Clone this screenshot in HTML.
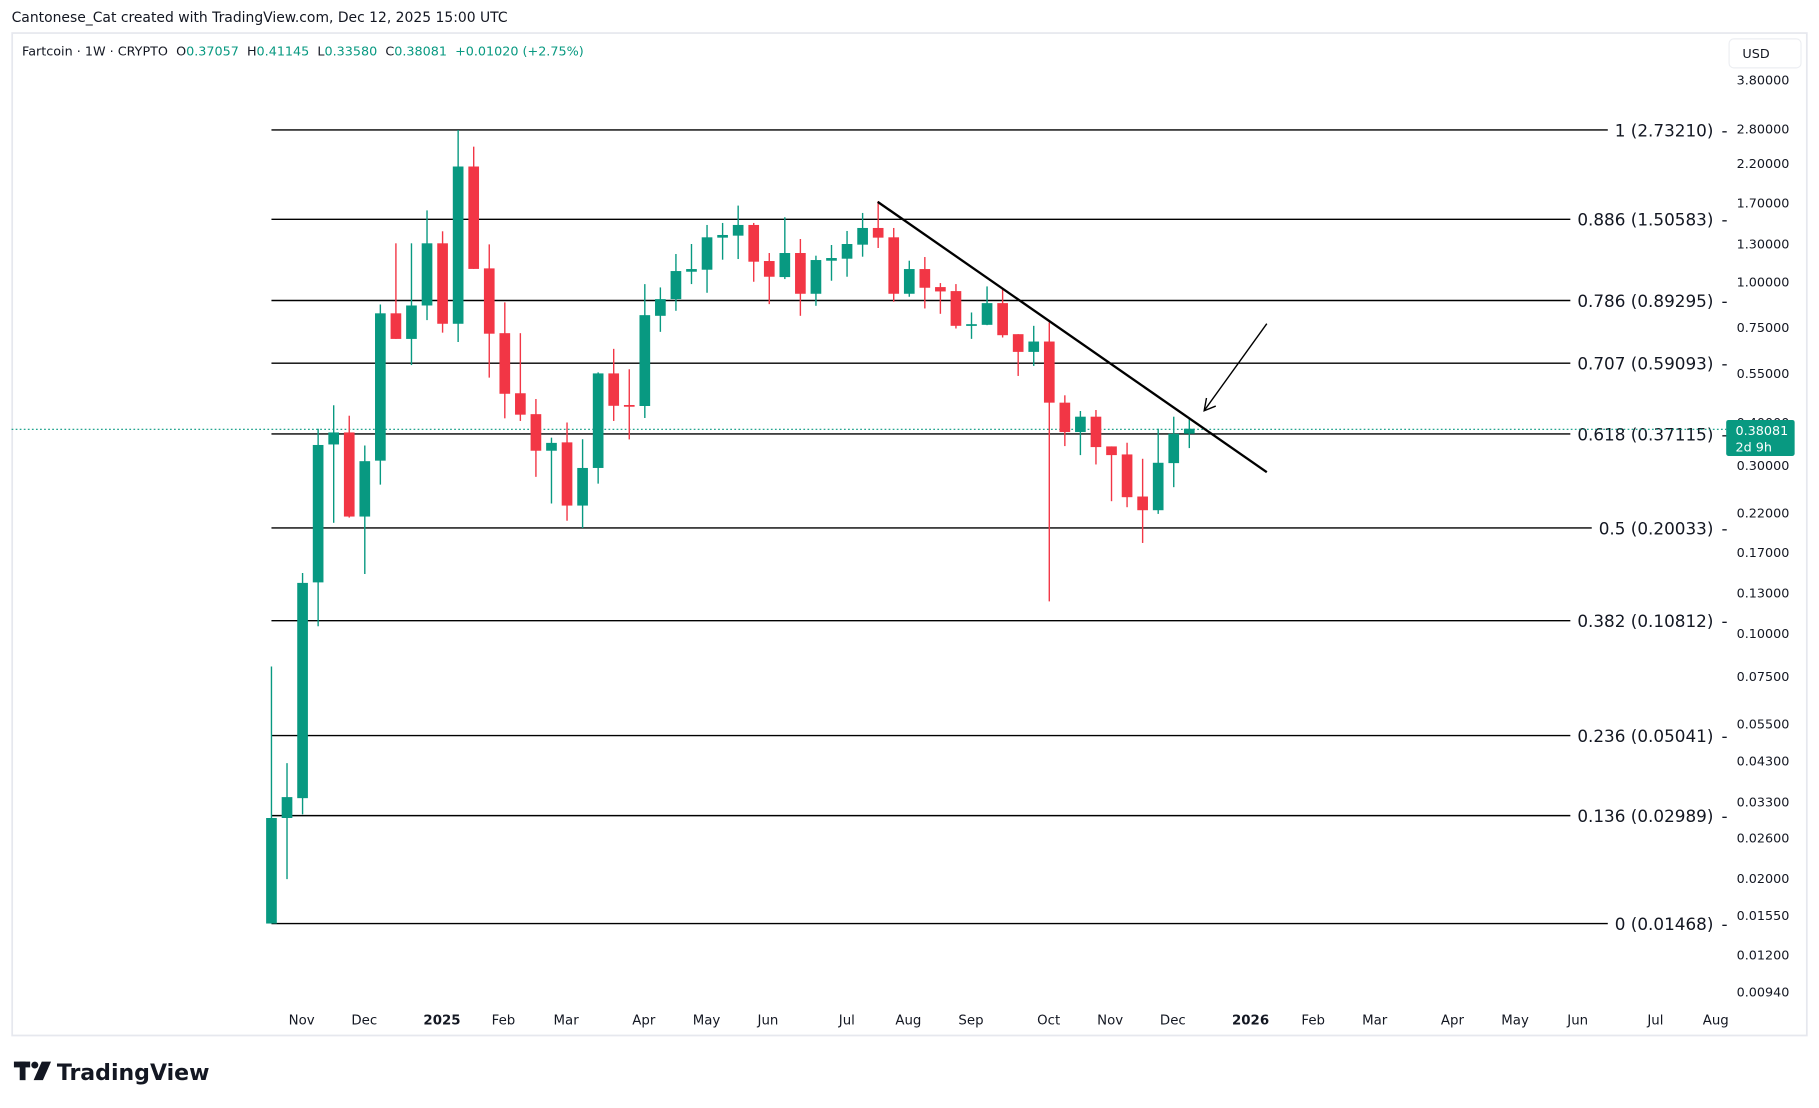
<!DOCTYPE html>
<html><head><meta charset="utf-8"><style>
html,body{margin:0;padding:0;background:#fff;width:1819px;height:1108px;overflow:hidden}
svg{display:block}
text{font-family:"DejaVu Sans","Liberation Sans",sans-serif;white-space:pre}
</style></head><body>
<svg id="s" width="1819" height="1108" viewBox="0 0 1568 955" preserveAspectRatio="none" xmlns="http://www.w3.org/2000/svg">
<rect x="0" y="0" width="1568" height="955" fill="#fff"/>
<text x="10" y="19" font-size="12" fill="#131722">Cantonese_Cat created with TradingView.com, Dec 12, 2025 15:00 UTC</text>
<rect x="10.5" y="28.5" width="1547" height="864" fill="#fff" stroke="#e6e8ee" stroke-width="1.5"/>
<text x="19" y="48" font-size="11" fill="#131722" xml:space="preserve">Fartcoin · 1W · CRYPTO  <tspan>O</tspan><tspan fill="#089981">0.37057</tspan>  <tspan>H</tspan><tspan fill="#089981">0.41145</tspan>  <tspan>L</tspan><tspan fill="#089981">0.33580</tspan>  <tspan>C</tspan><tspan fill="#089981">0.38081</tspan>  <tspan fill="#089981">+0.01020 (+2.75%)</tspan></text>
<rect x="1490.5" y="33.5" width="62" height="25" rx="4" fill="#fff" stroke="#eceef2"/>
<text x="1502" y="50" font-size="11" fill="#131722">USD</text>
<g id="fib"></g>
<line x1="10" y1="370" x2="1488" y2="370" stroke="#089981" stroke-width="1" stroke-dasharray="1.5,2"/>
<g id="candles"></g>
<line x1="756.6" y1="174" x2="1092" y2="407" stroke="#000" stroke-width="2"/>
<line x1="1092" y1="279" x2="1038" y2="354" stroke="#000" stroke-width="1.2"/>
<polyline points="1040,343 1038,354 1048,350" fill="none" stroke="#000" stroke-width="1.2"/>
<g font-size="11" fill="#131722">
<text x="1497" y="73">3.80000</text><text x="1497" y="115">2.80000</text><text x="1497" y="145">2.20000</text>
<text x="1497" y="179">1.70000</text><text x="1497" y="214">1.30000</text><text x="1497" y="247">1.00000</text>
<text x="1497" y="286">0.75000</text><text x="1497" y="326">0.55000</text><text x="1497" y="368">0.40000</text><text x="1497" y="405">0.30000</text>
<text x="1497" y="446">0.22000</text><text x="1497" y="480">0.17000</text><text x="1497" y="515">0.13000</text>
<text x="1497" y="550">0.10000</text><text x="1497" y="587">0.07500</text><text x="1497" y="628">0.05500</text>
<text x="1497" y="660">0.04300</text><text x="1497" y="695">0.03300</text><text x="1497" y="726">0.02600</text>
<text x="1497" y="761">0.02000</text><text x="1497" y="793">0.01550</text><text x="1497" y="827">0.01200</text>
<text x="1497" y="859">0.00940</text>
</g>
<rect x="1488" y="362" width="59" height="31" rx="2" fill="#089981"/>
<text x="1496" y="375" font-size="11" fill="#fff">0.38081</text>
<text x="1496" y="389" font-size="11" fill="#fff">2d 9h</text>
<g font-size="11.5" fill="#131722" text-anchor="middle">
<text x="260" y="883">Nov</text><text x="314" y="883">Dec</text><text x="381" y="883" font-weight="bold">2025</text>
<text x="434" y="883">Feb</text><text x="488" y="883">Mar</text><text x="555" y="883">Apr</text><text x="609" y="883">May</text>
<text x="662" y="883">Jun</text><text x="730" y="883">Jul</text><text x="783" y="883">Aug</text><text x="837" y="883">Sep</text>
<text x="904" y="883">Oct</text><text x="957" y="883">Nov</text><text x="1011" y="883">Dec</text><text x="1078" y="883" font-weight="bold">2026</text>
<text x="1132" y="883">Feb</text><text x="1185" y="883">Mar</text><text x="1252" y="883">Apr</text><text x="1306" y="883">May</text>
<text x="1360" y="883">Jun</text><text x="1427" y="883">Jul</text><text x="1479" y="883">Aug</text>
</g>
<g fill="#131722">
<rect x="12" y="915" width="14" height="5"/><rect x="17" y="915" width="5" height="16"/>
<circle cx="30" cy="918" r="3"/><polygon points="36,915 44,915 37,931 29,931"/>
</g>
<text x="49" y="931" font-size="19" font-weight="bold" fill="#131722" font-family="Liberation Sans,sans-serif">TradingView</text>
</svg>
<script>
var NS="http://www.w3.org/2000/svg";
function el(t,a,p){var e=document.createElementNS(NS,t);for(var k in a)e.setAttribute(k,a[k]);p.appendChild(e);return e;}
var fib=[["1 (2.73210)",112],["0.886 (1.50583)",189],["0.786 (0.89295)",259],["0.707 (0.59093)",313],["0.618 (0.37115)",374],["0.5 (0.20033)",455],["0.382 (0.10812)",535],["0.236 (0.05041)",634],["0.136 (0.02989)",703],["0 (0.01468)",796]];
var fg=document.getElementById("fib");
fib.forEach(function(f){
 var t=el("text",{x:1477,y:f[1]+5.5,"font-size":14.5,"text-anchor":"end",fill:"#131722"},fg);t.textContent=f[0];
 var d=el("text",{x:1484,y:f[1]+5.5,"font-size":14.5,fill:"#131722"},fg);d.textContent="-";
 var w=t.getComputedTextLength?t.getComputedTextLength():110;
 el("line",{x1:234,y1:f[1],x2:1477-w-6,y2:f[1],stroke:"#000","stroke-width":1.2},fg);
});
var A=[[1335,1537,1045,1537,1],[1295,1335,1230,1452,1],[885,1297,866,1328,1],[621,884,590,968,1],[597,620,545,770,1],[597,758,565,760,0],[652,758,622,868,1],[369,651,352,697,1],[369,418,235,418,0],[354,418,235,468,1],[235,354,172,382,1],[235,389,212,406,0],[88,389,18,424,1],[88,284,50,284,0],[283,408,237,492,0],[407,523,348,570,0],[522,563,407,575,0],[562,632,533,682,0],[617,632,607,733,1],[616,737,578,766,0],[665,737,610,780,1],[484,665,482,695,1],[484,546,437,575,0]];
var B=[[647,650,540,750,0],[378,650,285,686,1],[330,380,295,428,1],[246,330,195,365,1],[240,248,165,285,1],[145,242,108,311,1],[138,146,102,212,1],[108,140,50,210,1],[108,218,102,278,0],[216,263,192,345,0],[192,264,85,270,1],[192,314,150,380,0],[213,314,200,350,1],[207,215,168,275,1],[165,209,126,263,1],[117,167,72,203,1],[117,146,37,177,0],[145,314,117,338,0],[240,314,215,323,1],[240,296,204,358,0],[294,307,282,374,0],[306,410,285,418,0],[405,410,370,449,1],
[342,407,292,408,1],[342,438,300,445,0],[435,488,435,560,0],[457,488,410,530,1],[457,640,400,1235,0],[640,728,618,770,0],[682,728,665,797,1],[682,773,662,825,0],[771,797,771,935,0],[795,923,760,953,0],[921,962,808,1060,0],[820,962,718,973,1],[733,821,682,893,1],[718,733,686,776,1]];
var cg=document.getElementById("candles");
function ya(z){return 112+(z-18)*0.4503;}
function yb(z){return 189+(z-91)*0.2879;}
var all=A.map(function(c){return [ya(c[0]),ya(c[1]),ya(c[2]),ya(c[3]),c[4]];}).concat(B.map(function(c){return [yb(c[0]),yb(c[1]),yb(c[2]),yb(c[3]),c[4]];}));
all.forEach(function(c,i){
 var x=234+13.41*i, col=c[4]?"#089981":"#F23645";
 el("line",{x1:x,y1:c[2],x2:x,y2:c[3],stroke:col,"stroke-width":1.2},cg);
 var h=Math.max(c[1]-c[0],1.5);
 el("rect",{x:x-4.6,y:c[0],width:9.2,height:h,fill:col},cg);
});
</script>
</body></html>
